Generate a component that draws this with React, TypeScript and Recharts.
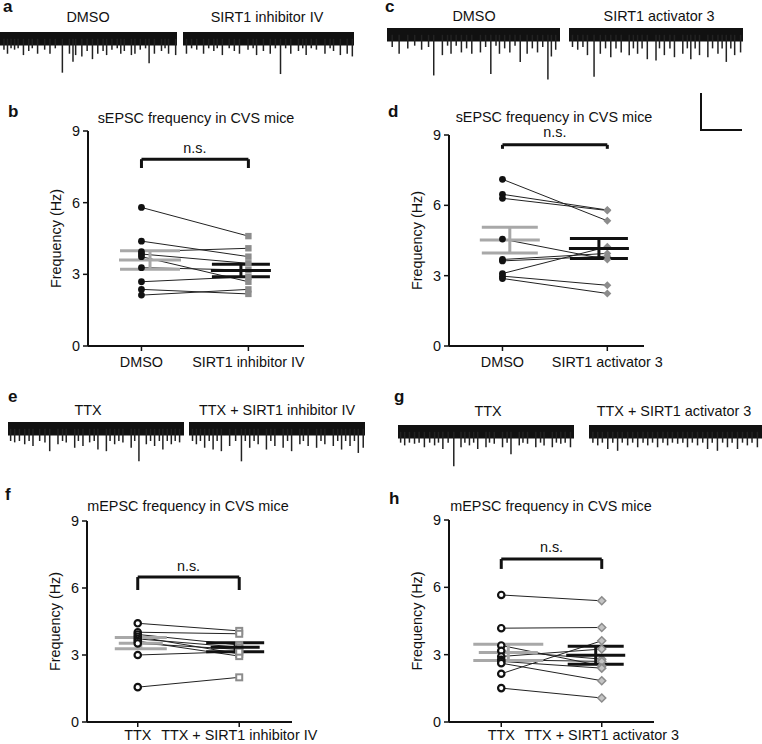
import React from 'react'
import {
  Bar,
  ComposedChart,
  ErrorBar,
  Line,
  ReferenceArea,
  ReferenceLine,
  Scatter,
  XAxis,
  YAxis,
} from 'recharts'

const FONT = 'Liberation Sans, Arial, Helvetica, sans-serif'
const BLACK = '#111111'
const GRAY = '#8c8c8c'
const LIGHT = '#a8a8a8'

// frequencies (Hz), paired by cell: before[i] -> after[i]
const bBefore = [5.8, 4.39, 3.95, 3.85, 3.74, 3.28, 2.69, 2.37, 2.13]
const bAfter = [4.6, 3.74, 4.09, 3.46, 2.69, 3.18, 2.9, 2.18, 2.37]
const bMeans = [3.6, 3.16]
const bSems = [0.39, 0.26]

const dBefore = [7.11, 6.47, 6.3, 4.56, 3.69, 3.63, 3.09, 2.98, 2.88]
const dAfter = [5.34, 5.8, 5.78, 3.69, 3.95, 3.83, 4.23, 2.59, 2.24]
const dMeans = [4.52, 4.16]
const dSems = [0.55, 0.43]

const fBefore = [4.42, 4.02, 3.92, 3.82, 3.72, 3.62, 3.52, 3.0, 1.56]
const fAfter = [4.08, 3.95, 3.45, 3.05, 3.35, 2.95, 3.25, 3.15, 2.0]
const fMeans = [3.53, 3.35]
const fSems = [0.25, 0.2]

const hBefore = [5.66, 4.18, 3.41, 3.17, 2.92, 2.77, 2.7, 2.62, 2.15, 1.51]
const hAfter = [5.4, 4.21, 2.5, 2.8, 3.25, 2.7, 2.4, 1.84, 3.62, 1.07]
const hMeans = [3.1, 2.97]
const hSems = [0.36, 0.4]

const yTicks = [0, 3, 6, 9]

// example traces: [time (% of sweep), amplitude below baseline]
const traceA1 = [[2, -8], [4, -11], [6, -7], [8, -8], [10, -7], [13, -12], [16, -9], [18, -7], [21, -11], [25, -8], [28, -11], [31, -7], [35, -25], [39, -11], [41, -17], [42.5, -12], [46, -13], [49, -9], [52, -15], [55, -11], [58, -9], [60, -12], [63, -8], [66, -7], [68, -11], [70, -9], [74, -12], [76, -11], [79, -8], [82, -7], [84, -18], [87, -11], [91, -9], [93, -7], [95, -11], [99, -12]]
const traceA2 = [[2, -11], [5, -7], [8, -8], [12, -11], [15, -7], [18, -9], [20, -7], [23, -12], [27, -7], [30, -9], [33, -11], [38, -8], [41, -7], [43, -12], [47, -9], [51, -11], [54, -7], [57, -26], [60, -7], [63, -11], [67.5, -9], [70, -7], [72, -12], [75, -7], [78, -8], [83, -11], [86, -7], [88, -9], [92, -12], [96, -11], [99, -13]]
const traceC1 = [[3, -9], [7, -14], [12, -10], [16, -8], [20, -11], [24, -9], [27, -30], [32, -15], [35, -8], [37, -14], [40, -8], [43, -13], [46, -10], [49, -14], [54, -13], [57, -9], [60, -29], [63, -8], [65, -14], [68, -10], [71, -13], [74, -8], [77, -20], [81, -14], [84, -10], [87, -13], [90, -9], [93, -33], [95, -16], [97.5, -11]]
const traceC2 = [[2, -9], [5, -11], [8, -9], [10.6, -15], [14.4, -31], [18, -14], [21, -10], [24, -16.5], [27, -10], [30, -13], [34.6, -15], [37, -10], [39.4, -14], [42, -10], [45, -18], [50, -19], [52, -10], [54.8, -15], [58, -10], [60.6, -16.5], [65.4, -14], [68, -10], [70, -18], [72.5, -10], [75, -15], [79.8, -16.5], [82.5, -10], [85.6, -14], [88, -10], [90.4, -20], [93, -10], [95.2, -15], [98.6, -13]]
const traceE1 = [[1.5, -9], [3.8, -10], [6.5, -9], [9.5, -11.4], [12, -9], [14.2, -12.7], [18, -9], [21, -10], [23.7, -16.5], [28.4, -11.4], [31, -9], [33.1, -10], [37.9, -14], [40, -9], [42.6, -12.7], [46.4, -10], [49, -9], [51.1, -15.3], [55.9, -16.5], [58, -9], [60.6, -11.4], [63, -9], [65.3, -10], [70, -14], [72, -9], [74.4, -24], [78.6, -11.4], [81, -9], [83.3, -12.7], [86, -9], [88, -15.3], [90.5, -9], [92.8, -11.4], [95, -9], [97.5, -10]]
const traceE2 = [[2, -9], [4.2, -11.4], [6.5, -9], [8.9, -14], [11.5, -9], [13.7, -15.3], [16, -9], [18.4, -16.5], [23.1, -12.7], [26.5, -9], [29.8, -24], [32, -9], [34.5, -14], [37, -9], [39.3, -11.4], [44, -15.3], [46.5, -9], [48.8, -12.7], [53.5, -14], [56, -9], [58.3, -16.5], [63, -11.4], [65, -9], [67.7, -12.7], [72.5, -14], [75, -9], [77.2, -11.4], [82, -12.7], [84.5, -9], [86.7, -15.3], [89, -9], [91.5, -12.7], [94, -9], [96.2, -17.8], [99, -14]]
const traceG1 = [[1.5, -8], [3.8, -10], [6.5, -8], [9.4, -8.8], [12, -8], [15, -11.4], [18, -8], [20.8, -10], [23, -8], [25.5, -12.7], [28.5, -8], [31.7, -25.5], [35.8, -11.4], [38, -8], [40.6, -10], [43, -8], [45.3, -12.7], [50, -11.4], [52, -8], [54.7, -8.8], [59.4, -11.4], [62, -8], [64.2, -16.5], [68.9, -10], [71, -8], [73.6, -8.8], [78.3, -11.4], [81, -8], [83, -10], [87.7, -11.4], [90, -8], [92.5, -8.8], [95, -8], [98, -11.4]]
const traceG2 = [[2, -8], [4.8, -10], [7.5, -8], [10.6, -12.7], [13.5, -8], [16.3, -14], [19, -8], [22.1, -10], [25, -8], [27.9, -11.4], [31, -8], [33.7, -10], [36.5, -8], [39.4, -11.4], [42.5, -8], [45.2, -10], [48, -8], [51, -8.8], [54, -8], [56.7, -11.4], [59.5, -8], [62.5, -10], [65.5, -8], [68.3, -12.7], [71, -8], [74, -14], [77, -8], [79.8, -11.4], [82.5, -8], [85.6, -12.7], [88.5, -8], [91.3, -10], [94, -8], [97.1, -11.4]]

type Shape = (p: any) => React.ReactElement

const filledCircle: Shape = (p) => <circle cx={p.cx} cy={p.cy} r={3.4} fill={BLACK} />
const openCircle: Shape = (p) => (
  <circle cx={p.cx} cy={p.cy} r={3.2} fill="#fff" stroke={BLACK} strokeWidth={2.2} />
)
const filledSquare: Shape = (p) => (
  <rect x={p.cx - 3.2} y={p.cy - 3.2} width={6.4} height={6.4} fill={GRAY} />
)
const openSquare: Shape = (p) => (
  <rect x={p.cx - 3} y={p.cy - 3} width={6} height={6} fill="#fff" stroke={GRAY} strokeWidth={2} />
)
const filledDiamond: Shape = (p) => (
  <polygon
    points={`${p.cx},${p.cy - 4} ${p.cx + 4},${p.cy} ${p.cx},${p.cy + 4} ${p.cx - 4},${p.cy}`}
    fill={GRAY}
  />
)
const ringDiamond: Shape = (p) => (
  <polygon
    points={`${p.cx},${p.cy - 4} ${p.cx + 4},${p.cy} ${p.cx},${p.cy + 4} ${p.cx - 4},${p.cy}`}
    fill="#c4c4c4"
    stroke={GRAY}
    strokeWidth={1.5}
  />
)

const meanBar = (color: string, width: number): Shape => (p) => (
  <line x1={p.cx - width / 2} x2={p.cx + width / 2} y1={p.cy} y2={p.cy} stroke={color} strokeWidth={3} />
)

type PanelProps = {
  plot: { left: number; top: number; right: number; bottom: number }
  xDomain: [number, number]
  labels: string[]
  before: number[]
  after: number[]
  means: number[]
  sems: number[]
  meanX: [number, number]
  meanW: [number, number]
  capW: [number, number]
  bracket: [number, number]
  nsOffset: number
  labelGap: number
  beforeShape: Shape
  afterShape: Shape
}

function PairedPanel(props: PanelProps) {
  const { plot, xDomain, labels, before, after, means, sems, meanX, meanW, capW, bracket } = props
  const width = plot.right - plot.left + 140
  const height = plot.bottom - plot.top + 64
  const pairs = before.map((v, i) => [
    { x: 0, y: v },
    { x: 1, y: after[i] },
  ])

  return (
    <div style={{ position: 'absolute', left: plot.left - 60, top: plot.top - 40 }}>
      <ComposedChart width={width} height={height} margin={{ top: 40, right: 80, bottom: 0, left: 20 }}>
        <XAxis
          type="number"
          dataKey="x"
          domain={xDomain}
          ticks={[0, 1]}
          interval={0}
          tickFormatter={(v) => labels[Number(v)]}
          tick={{ fill: BLACK, fontSize: 14.4, fontFamily: FONT }}
          axisLine={{ stroke: BLACK, strokeWidth: 2 }}
          tickLine={{ stroke: BLACK, strokeWidth: 1.5 }}
          tickSize={5}
          tickMargin={props.labelGap}
          height={24}
          allowDataOverflow
        />
        <YAxis
          type="number"
          dataKey="y"
          domain={[0, 9]}
          ticks={yTicks}
          width={40}
          tick={{ fill: BLACK, fontSize: 14.4, fontFamily: FONT }}
          axisLine={{ stroke: BLACK, strokeWidth: 2 }}
          tickLine={{ stroke: BLACK, strokeWidth: 1.5 }}
          tickSize={5}
          tickMargin={3}
          allowDataOverflow
          label={{
            value: 'Frequency (Hz)',
            angle: -90,
            position: 'insideLeft',
            offset: 8,
            fill: BLACK,
            fontSize: 14.4,
            fontFamily: FONT,
            style: { textAnchor: 'middle' },
          }}
        />
        {pairs.map((pair, i) => (
          <Line
            key={`pair-${i}`}
            data={pair}
            dataKey="y"
            stroke="#222"
            strokeWidth={1}
            dot={false}
            activeDot={false}
            isAnimationActive={false}
          />
        ))}
        <Scatter
          data={[{ x: meanX[0], y: means[0], sem: sems[0] }]}
          shape={meanBar(LIGHT, meanW[0])}
          isAnimationActive={false}
        >
          <ErrorBar dataKey="sem" direction="y" width={capW[0]} stroke={LIGHT} strokeWidth={3} />
        </Scatter>
        <Scatter data={before.map((y) => ({ x: 0, y }))} shape={props.beforeShape} isAnimationActive={false} />
        <Scatter data={after.map((y) => ({ x: 1, y }))} shape={props.afterShape} isAnimationActive={false} />
        <Scatter
          data={[{ x: meanX[1], y: means[1], sem: sems[1] }]}
          shape={meanBar(BLACK, meanW[1])}
          isAnimationActive={false}
        >
          <ErrorBar dataKey="sem" direction="y" width={capW[1]} stroke={BLACK} strokeWidth={3} />
        </Scatter>
        <ReferenceLine
          segment={[
            { x: 0, y: bracket[1] },
            { x: 1, y: bracket[1] },
          ]}
          stroke={BLACK}
          strokeWidth={3}
          ifOverflow="visible"
          label={{ value: 'n.s.', position: 'top', offset: props.nsOffset, fill: BLACK, fontSize: 14.4, fontFamily: FONT }}
        />
        <ReferenceLine
          segment={[
            { x: 0, y: bracket[0] },
            { x: 0, y: bracket[1] },
          ]}
          stroke={BLACK}
          strokeWidth={3}
          ifOverflow="visible"
        />
        <ReferenceLine
          segment={[
            { x: 1, y: bracket[0] },
            { x: 1, y: bracket[1] },
          ]}
          stroke={BLACK}
          strokeWidth={3}
          ifOverflow="visible"
        />
      </ComposedChart>
    </div>
  )
}

function Trace({ spikes, left, width, bandTop }: { spikes: number[][]; left: number; width: number; bandTop: number }) {
  const data = spikes.map(([t, amp]) => ({ t, amp }))
  return (
    <div style={{ position: 'absolute', left, top: bandTop - 4 }}>
      <ComposedChart width={width} height={65} data={data} margin={{ top: 0, right: 0, bottom: 0, left: 0 }}>
        <XAxis type="number" dataKey="t" domain={[0, 100]} hide />
        <YAxis type="number" domain={[-40, 8]} hide />
        <ReferenceArea y1={-5} y2={5} fill={BLACK} fillOpacity={1} stroke="none" />
        <Bar dataKey="amp" fill="#222" barSize={1.5} isAnimationActive={false} />
      </ComposedChart>
    </div>
  )
}

const txt = { fontFamily: FONT, fontSize: 14.4, fill: BLACK }
const letter = { fontFamily: FONT, fontSize: 17, fontWeight: 700, fill: BLACK }

export default function App() {
  return (
    <div
      style={{
        position: 'absolute',
        left: 0,
        top: 0,
        width: 762,
        height: 744,
        overflow: 'hidden',
        background: '#fff',
        fontFamily: FONT,
      }}
    >
      <Trace spikes={traceA1} left={0} width={177} bandTop={32} />
      <Trace spikes={traceA2} left={183} width={171} bandTop={32} />
      <Trace spikes={traceC1} left={387} width={173} bandTop={28} />
      <Trace spikes={traceC2} left={569} width={174} bandTop={28} />
      <Trace spikes={traceE1} left={8} width={176} bandTop={422} />
      <Trace spikes={traceE2} left={189} width={176} bandTop={422} />
      <Trace spikes={traceG1} left={398} width={176} bandTop={425} />
      <Trace spikes={traceG2} left={589} width={173} bandTop={425} />

      <PairedPanel
        plot={{ left: 88, top: 131, right: 304, bottom: 346 }}
        xDomain={[-0.5, 1.52]}
        labels={['DMSO', 'SIRT1 inhibitor IV']}
        before={bBefore}
        after={bAfter}
        means={bMeans}
        sems={bSems}
        meanX={[0.08, 0.93]}
        meanW={[62, 60]}
        capW={[30, 29]}
        bracket={[7.45, 7.82]}
        nsOffset={6}
        labelGap={6}
        beforeShape={filledCircle}
        afterShape={filledSquare}
      />
      <PairedPanel
        plot={{ left: 449, top: 135, right: 644, bottom: 346 }}
        xDomain={[-0.51, 1.35]}
        labels={['DMSO', 'SIRT1 activator 3']}
        before={dBefore}
        after={dAfter}
        means={dMeans}
        sems={dSems}
        meanX={[0.07, 0.92]}
        meanW={[60, 60]}
        capW={[28, 29]}
        bracket={[8.41, 8.58]}
        nsOffset={8}
        labelGap={6}
        beforeShape={filledCircle}
        afterShape={filledDiamond}
      />
      <PairedPanel
        plot={{ left: 87, top: 521, right: 292, bottom: 722 }}
        xDomain={[-0.5, 1.52]}
        labels={['TTX', 'TTX + SIRT1 inhibitor IV']}
        before={fBefore}
        after={fAfter}
        means={fMeans}
        sems={fSems}
        meanX={[0.03, 0.96]}
        meanW={[44, 49]}
        capW={[26, 29]}
        bracket={[5.91, 6.49]}
        nsOffset={6}
        labelGap={3}
        beforeShape={openCircle}
        afterShape={openSquare}
      />
      <PairedPanel
        plot={{ left: 449, top: 520, right: 654, bottom: 722 }}
        xDomain={[-0.52, 1.52]}
        labels={['TTX', 'TTX + SIRT1 activator 3']}
        before={hBefore}
        after={hAfter}
        means={hMeans}
        sems={hSems}
        meanX={[0.07, 0.94]}
        meanW={[59, 59]}
        capW={[35, 28]}
        bracket={[6.82, 7.26]}
        nsOffset={7}
        labelGap={3}
        beforeShape={openCircle}
        afterShape={ringDiamond}
      />

      <svg width={762} height={744} style={{ position: 'absolute', left: 0, top: 0, pointerEvents: 'none' }}>
        <text x={3} y={12} style={letter}>a</text>
        <text x={385} y={12} style={letter}>c</text>
        <text x={8} y={117} style={letter}>b</text>
        <text x={388} y={117} style={letter}>d</text>
        <text x={8} y={402} style={letter}>e</text>
        <text x={394} y={402} style={letter}>g</text>
        <text x={5} y={500} style={letter}>f</text>
        <text x={389} y={504} style={letter}>h</text>

        <text x={88} y={22} textAnchor="middle" style={txt}>DMSO</text>
        <text x={267} y={22} textAnchor="middle" style={txt}>SIRT1 inhibitor IV</text>
        <text x={474} y={21} textAnchor="middle" style={txt}>DMSO</text>
        <text x={659} y={21} textAnchor="middle" style={txt}>SIRT1 activator 3</text>
        <text x={88} y={415} textAnchor="middle" style={txt}>TTX</text>
        <text x={277} y={415} textAnchor="middle" style={txt}>TTX + SIRT1 inhibitor IV</text>
        <text x={488} y={416} textAnchor="middle" style={txt}>TTX</text>
        <text x={674} y={416} textAnchor="middle" style={txt}>TTX + SIRT1 activator 3</text>

        <text x={196} y={123} textAnchor="middle" style={txt}>sEPSC frequency in CVS mice</text>
        <text x={554} y={122} textAnchor="middle" style={txt}>sEPSC frequency in CVS mice</text>
        <text x={188} y={511} textAnchor="middle" style={txt}>mEPSC frequency in CVS mice</text>
        <text x={551} y={511} textAnchor="middle" style={txt}>mEPSC frequency in CVS mice</text>

        <path d="M701 93 L701 130 L742 130" fill="none" stroke={BLACK} strokeWidth={2} />
      </svg>
    </div>
  )
}
